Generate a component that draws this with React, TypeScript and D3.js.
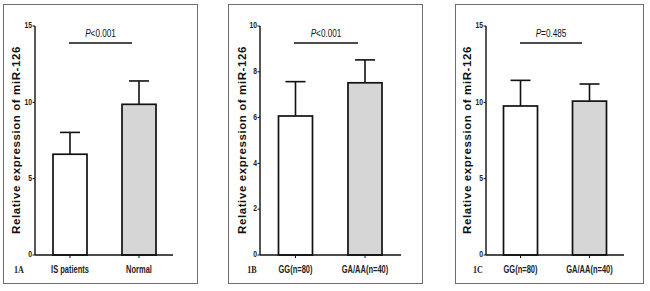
import React from "react";
import * as d3 from "d3";

const categoriesA = ["IS patients", "Normal"];
const meansA = [6.6, 9.87];
const errorsA = [8.03, 11.4];
const ticksA = [0, 5, 10, 15];

const categoriesB = ["GG(n=80)", "GA/AA(n=40)"];
const meansB = [6.07, 7.52];
const errorsB = [7.57, 8.52];
const ticksB = [0, 2, 4, 6, 8, 10];

const categoriesC = ["GG(n=80)", "GA/AA(n=40)"];
const meansC = [9.76, 10.08];
const errorsC = [11.44, 11.2];
const ticksC = [0, 5, 10, 15];

const panelLabels = ["1A", "1B", "1C"];
const pLabels = ["<0.001", "<0.001", "=0.485"];
const yTitle = "Relative expression of miR-126";
const fills = ["#ffffff", "#d6d6d6"];

type PanelProps = {
  box: [number, number, number, number];
  axisX: number;
  axisEnd: number;
  barX: [number, number];
  barW: number;
  sig: [number, number];
  titleX: number;
  cats: string[];
  means: number[];
  errs: number[];
  ticks: number[];
  label: string;
  labelX: number;
  p: string;
};

const sans = "'Liberation Sans', Arial, sans-serif";

function Panel(props: PanelProps) {
  const { box, axisX, axisEnd, barX, barW, sig, titleX, cats, means, errs, ticks, label, labelX, p } = props;
  const yMax = ticks[ticks.length - 1];
  const y = d3.scaleLinear().domain([0, yMax]).range([255, 26]);
  const x = d3.scaleOrdinal<string, number>().domain(cats).range(barX);
  const capW = 20;
  return (
    <g>
      <rect x={box[0]} y={box[1]} width={box[2]} height={box[3]} fill="#fff" stroke="#6e6e6e" strokeWidth={1} />
      <text
        transform={`translate(${titleX},${140}) rotate(-90)`}
        textAnchor="middle"
        dominantBaseline="middle"
        fontFamily={sans}
        fontWeight="bold"
        fontSize={11.5}
        letterSpacing={0.6}
        fill="#111"
      >
        {yTitle}
      </text>
      {means.map((m, i) => {
        const cx = x(cats[i]);
        return (
          <g key={i}>
            <line x1={cx} x2={cx} y1={y(m)} y2={y(errs[i])} stroke="#111" strokeWidth={1.6} />
            <line x1={cx - capW / 2} x2={cx + capW / 2} y1={y(errs[i])} y2={y(errs[i])} stroke="#111" strokeWidth={1.6} />
            <rect x={cx - barW / 2} y={y(m)} width={barW} height={y(0) - y(m)} fill={fills[i]} stroke="#111" strokeWidth={1.7} />
          </g>
        );
      })}
      <line x1={axisX} x2={axisX} y1={y(0)} y2={y(yMax)} stroke="#111" strokeWidth={1.4} />
      <line x1={axisX} x2={axisEnd} y1={y(0)} y2={y(0)} stroke="#111" strokeWidth={1.4} />
      {ticks.map((t) => (
        <g key={t}>
          <line x1={axisX - 2.5} x2={axisX} y1={y(t)} y2={y(t)} stroke="#111" strokeWidth={1} />
          <text
            transform={`translate(${axisX - 3},${y(t)}) scale(0.8,1)`}
            textAnchor="end"
            dominantBaseline="middle"
            fontFamily={sans}
            fontWeight="bold"
            fontSize={8.5}
            fill="#222"
          >
            {t}
          </text>
        </g>
      ))}
      {cats.map((c) => (
        <g key={c}>
          <line x1={x(c)} x2={x(c)} y1={y(0)} y2={y(0) + 3} stroke="#111" strokeWidth={1} />
          <text
            transform={`translate(${x(c)},${273}) scale(0.75,1)`}
            textAnchor="middle"
            fontFamily={sans}
            fontWeight="bold"
            fontSize={10}
            fill="#222"
          >
            {c}
          </text>
        </g>
      ))}
      <text
        transform={`translate(${labelX},${273}) scale(0.85,1)`}
        textAnchor="middle"
        fontFamily="'Liberation Serif', 'Times New Roman', serif"
        fontWeight="bold"
        fontSize={9.5}
        fill="#222"
      >
        {label}
      </text>
      <line x1={sig[0]} x2={sig[1]} y1={43} y2={43} stroke="#111" strokeWidth={1.6} />
      <text
        transform={`translate(${(sig[0] + sig[1]) / 2},${36.5}) scale(0.82,1)`}
        textAnchor="middle"
        fontFamily={sans}
        fontSize={10}
        fill="#111"
      >
        <tspan fontStyle="italic">P</tspan>
        {p}
      </text>
    </g>
  );
}

export default function App() {
  return (
    <svg width={650} height={291} style={{ position: "absolute", left: 0, top: 0, background: "#fff" }}>
      <rect x={0} y={0} width={650} height={291} fill="#fff" />
      <Panel
        box={[3.5, 4.5, 194, 279]}
        axisX={35}
        axisEnd={173}
        barX={[70, 139]}
        barW={34}
        sig={[69, 132]}
        titleX={17}
        cats={categoriesA}
        means={meansA}
        errs={errorsA}
        ticks={ticksA}
        label={panelLabels[0]}
        labelX={19}
        p={pLabels[0]}
      />
      <Panel
        box={[228.5, 4.5, 194, 279]}
        axisX={260}
        axisEnd={401}
        barX={[295.5, 365]}
        barW={34}
        sig={[294, 358]}
        titleX={243}
        cats={categoriesB}
        means={meansB}
        errs={errorsB}
        ticks={ticksB}
        label={panelLabels[1]}
        labelX={252}
        p={pLabels[1]}
      />
      <Panel
        box={[455.5, 4.5, 188, 279]}
        axisX={486}
        axisEnd={624}
        barX={[520.5, 589.5]}
        barW={34}
        sig={[520, 582]}
        titleX={468}
        cats={categoriesC}
        means={meansC}
        errs={errorsC}
        ticks={ticksC}
        label={panelLabels[2]}
        labelX={478}
        p={pLabels[2]}
      />
    </svg>
  );
}
